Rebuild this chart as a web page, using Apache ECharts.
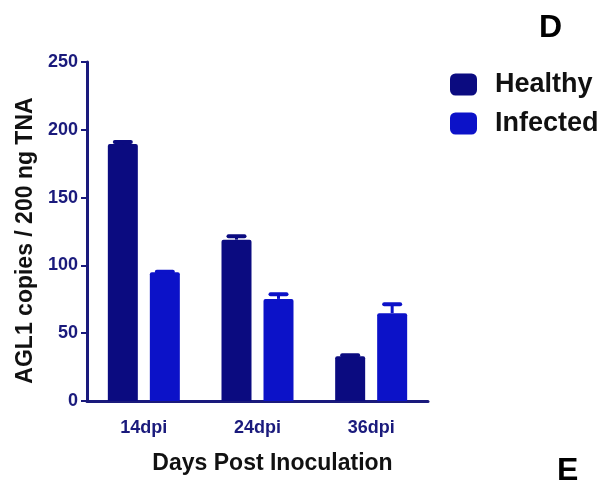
<!DOCTYPE html>
<html>
<head>
<meta charset="utf-8">
<script src="https://cdn.jsdelivr.net/npm/echarts@6/dist/echarts.min.js"></script>
<style>html,body{margin:0;padding:0;background:#fff;}#c{width:609px;height:482px;}</style>
</head>
<body>
<div id="c"></div>
<script>
const categories = ['14dpi', '24dpi', '36dpi'];
const healthy = [189.5, 119, 33];
const healthyErr = [1.5, 2.5, 0.8];
const infected = [95, 75.3, 64.8];
const infectedErr = [0.3, 3.5, 6.5];
const yTicks = [0, 50, 100, 150, 200, 250];

const navy = '#1a1a7c';
const cHealthy = '#0b0b80';
const cInfected = '#0c12c8';
const tickFont = 'Liberation Sans, Arial, sans-serif';

function errSeries(name, vals, errs, offset, color) {
  return {
    type: 'custom',
    name: name + ' err',
    z: 5,
    data: vals.map((v, i) => [i, v, v + errs[i]]),
    renderItem: function (params, api) {
      const base = api.coord([api.value(0), api.value(1)]);
      const top = api.coord([api.value(0), api.value(2)]);
      const x = base[0] + offset;
      return {
        type: 'group',
        children: [
          { type: 'line', shape: { x1: x, y1: base[1], x2: x, y2: top[1] }, style: { stroke: color, lineWidth: 3 } },
          { type: 'line', shape: { x1: x - 8, y1: top[1], x2: x + 8, y2: top[1] }, style: { stroke: color, lineWidth: 4, lineCap: 'round' } }
        ]
      };
    }
  };
}

const chart = echarts.init(document.getElementById('c'));
chart.setOption({
  animation: false,
  backgroundColor: '#fff',
  grid: { left: 87, top: 62, right: 181, bottom: 81, containLabel: false },
  legend: {
    orient: 'vertical', left: 445, top: 66,
    itemWidth: 27, itemHeight: 22, itemGap: 12, icon: 'roundRect',
    data: ['Healthy', 'Infected'],
    textStyle: { fontFamily: 'Liberation Sans, Arial, sans-serif', fontWeight: 'bold', fontSize: 27, color: '#111', padding: [0, 0, 0, 13], lineHeight: 22 }
  },
  xAxis: {
    type: 'category', data: categories,
    axisLine: { lineStyle: { color: navy, width: 3 } },
    axisTick: { alignWithLabel: true, length: 8, lineStyle: { color: navy, width: 2 } },
    axisLabel: { color: navy, fontFamily: tickFont, fontWeight: 'bold', fontSize: 18, margin: 18 },
    name: 'Days Post Inoculation', nameLocation: 'middle', nameGap: 51,
    nameTextStyle: { color: '#111', fontFamily: 'Liberation Sans, Arial, sans-serif', fontWeight: 'bold', fontSize: 23, padding: [0, 0, 0, 30] }
  },
  yAxis: {
    type: 'value', min: 0, max: 250, interval: 50,
    splitLine: { show: false },
    axisLine: { show: true, lineStyle: { color: navy, width: 3 } },
    axisTick: { show: true, length: 6, lineStyle: { color: navy, width: 2 } },
    axisLabel: { color: navy, fontFamily: tickFont, fontWeight: 'bold', fontSize: 18, margin: 9,
      formatter: v => yTicks.includes(v) ? String(v) : '' },
    name: 'AGL1 copies / 200 ng TNA', nameLocation: 'middle', nameGap: 46, nameRotate: 90,
    nameTextStyle: { color: '#111', fontFamily: 'Liberation Sans, Arial, sans-serif', fontWeight: 'bold', fontSize: 23, padding: [0, 18, 0, 0] }
  },
  series: [
    { name: 'Healthy', type: 'bar', data: healthy, barWidth: 30, barGap: '40%', itemStyle: { color: cHealthy, borderRadius: [2, 2, 0, 0] }, z: 2 },
    { name: 'Infected', type: 'bar', data: infected, barWidth: 30, itemStyle: { color: cInfected, borderRadius: [2, 2, 0, 0] }, z: 2 },
    errSeries('Healthy', healthy, healthyErr, -21, cHealthy),
    errSeries('Infected', infected, infectedErr, 21, cInfected)
  ],
  graphic: [
    { type: 'text', left: 539, top: 12, style: { text: 'D', font: 'bold 32px "Liberation Sans", Arial, sans-serif', fill: '#000' } },
    { type: 'text', left: 557, top: 455, style: { text: 'E', font: 'bold 32px "Liberation Sans", Arial, sans-serif', fill: '#000' } }
  ]
});
</script>
</body>
</html>
